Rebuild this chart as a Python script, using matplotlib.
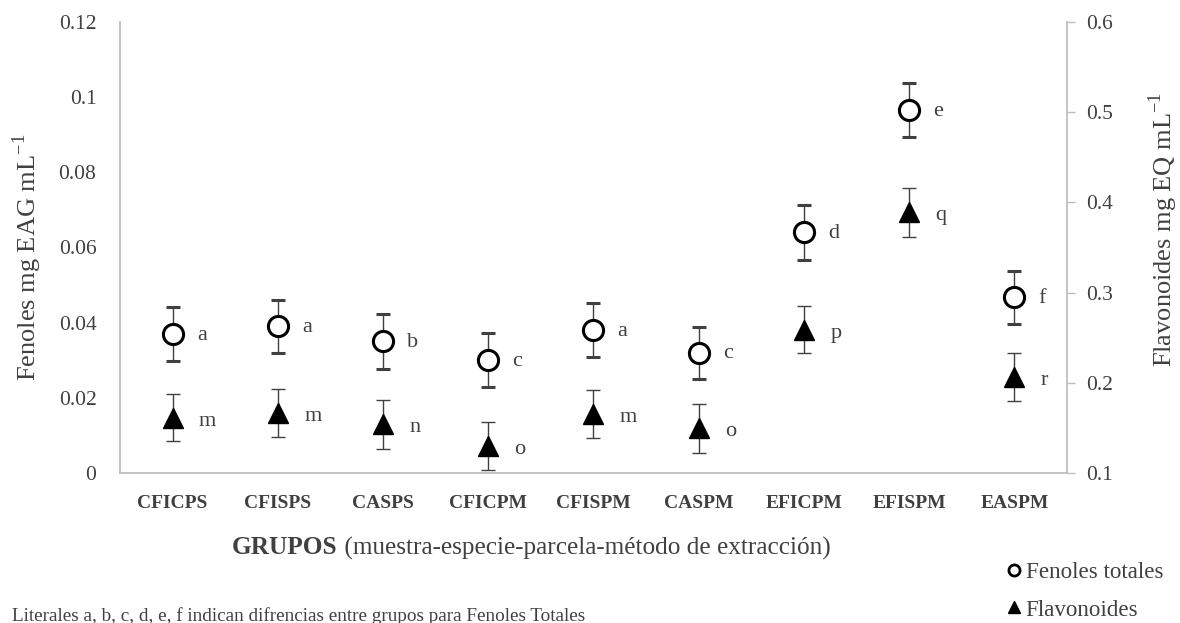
import numpy as np
import matplotlib
matplotlib.use('Agg')
import matplotlib.pyplot as plt
from matplotlib.lines import Line2D

plt.rcParams['font.family'] = 'Liberation Serif'

# grupos y medias (fenoles en eje izquierdo, flavonoides en eje derecho)
grupos = ['CFICPS', 'CFISPS', 'CASPS', 'CFICPM', 'CFISPM', 'CASPM', 'EFICPM', 'EFISPM', 'EASPM']
fenoles = [0.037, 0.039, 0.035, 0.030, 0.038, 0.032, 0.064, 0.0966, 0.0467]
fenoles_err = [0.0072, 0.0071, 0.0072, 0.0072, 0.0072, 0.0069, 0.0072, 0.0072, 0.0071]
flavonoides = [0.1615, 0.1665, 0.154, 0.130, 0.1655, 0.1495, 0.259, 0.389, 0.2065]
flavonoides_err = [0.026, 0.0265, 0.027, 0.0265, 0.0265, 0.027, 0.026, 0.027, 0.0265]
letras_fen = ['a', 'a', 'b', 'c', 'a', 'c', 'd', 'e', 'f']
letras_flav = ['m', 'm', 'n', 'o', 'm', 'o', 'p', 'q', 'r']

gris = '#404040'
eje = '#bfbfbf'

fig = plt.figure(figsize=(11.8, 6.23), dpi=100)
ax = fig.add_axes([120/1180, 1-473/623, (1067-120)/1180, (473-22)/623])
ax2 = ax.twinx()

x = np.arange(len(grupos))

ax.errorbar(x, fenoles, yerr=fenoles_err, fmt='o', ms=14.5, mfc='white', mec='black',
            mew=2.2, ecolor=gris, elinewidth=1.0, capsize=5, capthick=1.0, zorder=3)
ax2.errorbar(x, flavonoides, yerr=flavonoides_err, fmt='^', ms=14, mfc='black', mec='black',
             ecolor=gris, elinewidth=1.0, capsize=5, capthick=1.0, zorder=3)

for i in range(len(grupos)):
    ax.text(x[i] + 0.23, fenoles[i] - 0.0003, letras_fen[i], fontsize=16, color=gris,
            ha='left', va='center')
    ax2.text(x[i] + 0.25, flavonoides[i] - 0.004, letras_flav[i], fontsize=16, color=gris,
             ha='left', va='center')

ax.set_xlim(-0.5, len(grupos) - 0.5)
ax.set_ylim(0, 0.12)
ax2.set_ylim(0.1, 0.6)

ax.set_yticks([0, 0.02, 0.04, 0.06, 0.08, 0.1, 0.12])
ax.set_yticklabels(['0', '0.02', '0.04', '0.06', '0.08', '0.1', '0.12'])
ax2.set_yticks([0.1, 0.2, 0.3, 0.4, 0.5, 0.6])
ax2.set_yticklabels(['0.1', '0.2', '0.3', '0.4', '0.5', '0.6'])
ax.set_xticks(x)
ax.set_xticklabels(grupos, fontweight='bold', fontsize=14, color=gris)

ax.tick_params(axis='y', length=0, pad=17, labelsize=15.5, labelcolor=gris)
ax.tick_params(axis='x', length=0, pad=16)
ax2.tick_params(axis='y', length=6, width=1, color=eje, pad=8, labelsize=15.5, labelcolor=gris)

for a in (ax, ax2):
    for s in a.spines.values():
        s.set_visible(False)
ax.spines['left'].set_visible(True)
ax.spines['bottom'].set_visible(True)
ax2.spines['right'].set_visible(True)
for s in (ax.spines['left'], ax.spines['bottom'], ax2.spines['right']):
    s.set_color(eje)
    s.set_linewidth(1.3)

fig.text(27/1180, 1-257/623, 'Fenoles mg EAG mL$^{\\mathregular{-1}}$', rotation=90,
         fontsize=19, color=gris, ha='center', va='center')
fig.text(1163/1180, 1-229/623, 'Flavonoides mg EQ mL$^{\\mathregular{-1}}$', rotation=90,
         fontsize=19, color=gris, ha='center', va='center')

t1 = fig.text(232/1180, 1-548/623, 'GRUPOS', fontsize=18.2, fontweight='bold', color=gris,
              ha='left', va='center')
ax.annotate(' (muestra-especie-parcela-método de extracción)', xy=(1, 0), xycoords=t1,
            fontsize=18.2, color=gris, ha='left', va='bottom', annotation_clip=False)

fig.text(12/1180, 1-621/623, 'Literales a, b, c, d, e, f indican difrencias entre grupos para Fenoles Totales',
         fontsize=13.8, color=gris, ha='left', va='baseline')

h1 = Line2D([], [], marker='o', ls='none', ms=8, mfc='white', mec='black', mew=2)
h2 = Line2D([], [], marker='^', ls='none', ms=9, mfc='black', mec='black')
fig.legend([h1, h2], ['Fenoles totales', 'Flavonoides'], loc='lower left',
           bbox_to_anchor=(990/1180, -0.022), frameon=False, fontsize=16.6,
           handlelength=0.7, handletextpad=0.15, labelspacing=0.7, borderpad=0.2,
           labelcolor=gris)

fig.savefig('out.png', dpi=100)
